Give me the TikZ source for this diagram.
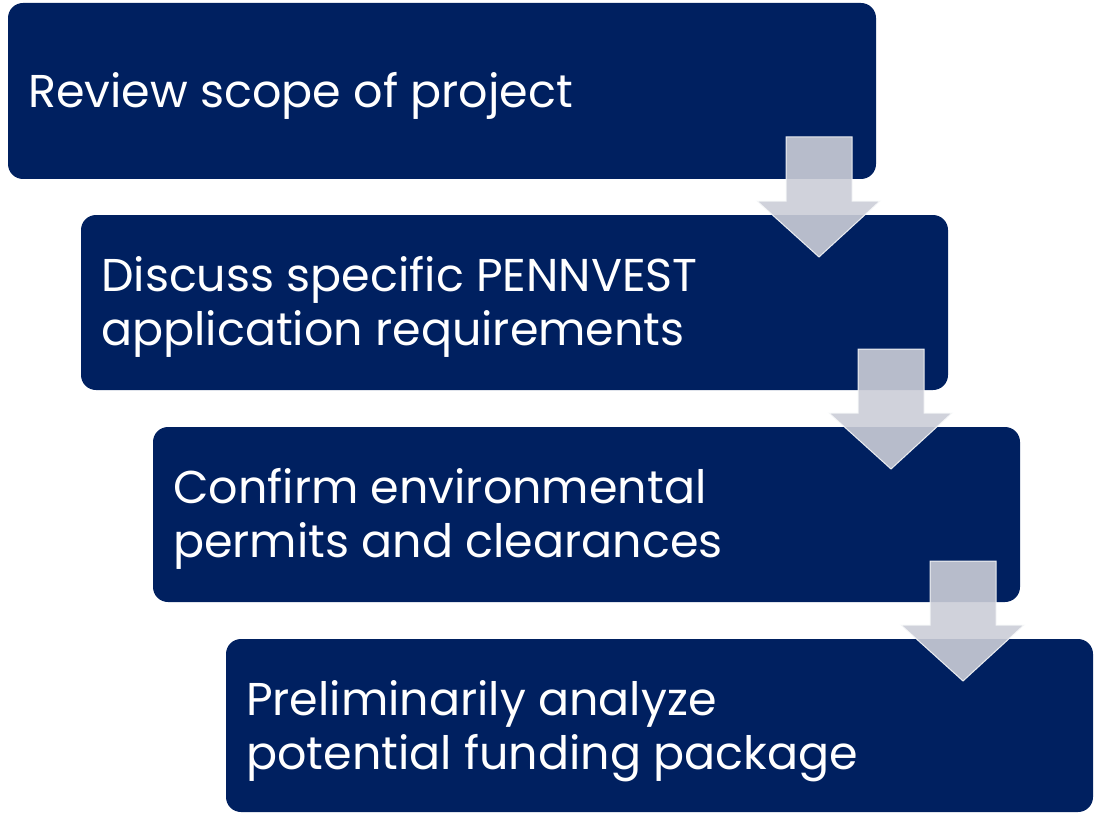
\documentclass[tikz,border=0pt]{standalone}
\usepackage{fontspec}
\setmainfont{Poppins}
\definecolor{navy}{HTML}{002060}
\definecolor{arrowfill}{RGB}{203,205,215}
\begin{document}
\begin{tikzpicture}[x=1pt,y=-1pt,
  stepbox/.style={fill=navy,rounded corners=15pt,inner sep=0pt},
  steptext/.style={text=white,align=left,anchor=west,inner sep=0pt,font=\fontsize{46}{54}\selectfont},
  downarrow/.style={fill=arrowfill,fill opacity=0.9,draw=white!85!arrowfill,line width=1pt,draw opacity=0.9}]
\useasboundingbox (0,0) rectangle (1094,813);
\fill[stepbox] (8,3) rectangle (876,179) coordinate (b1);
\fill[stepbox] (81,215) rectangle (948,390) coordinate (b2);
\fill[stepbox] (153,427) rectangle (1020,602) coordinate (b3);
\fill[stepbox] (226,639) rectangle (1093,812) coordinate (b4);
\node[steptext] (t1) at (28,96) {Review scope of project};
\node[steptext] (t2) at (101,307) {Discuss specific PENNVEST\\application requirements};
\node[steptext] (t3) at (173,519) {Confirm environmental\\permits and clearances};
\node[steptext] (t4) at (246,731) {Preliminarily analyze\\potential funding package};
\foreach \dx/\dy in {0/0,72/212,144/424}{
  \begin{scope}[shift={(\dx,\dy)}]
  \draw[downarrow] (786,137) -- (852,137) -- (852,201) -- (880,201) -- (819,257) -- (757,201) -- (786,201) -- cycle;
  \end{scope}
}
\end{tikzpicture}
\end{document}
